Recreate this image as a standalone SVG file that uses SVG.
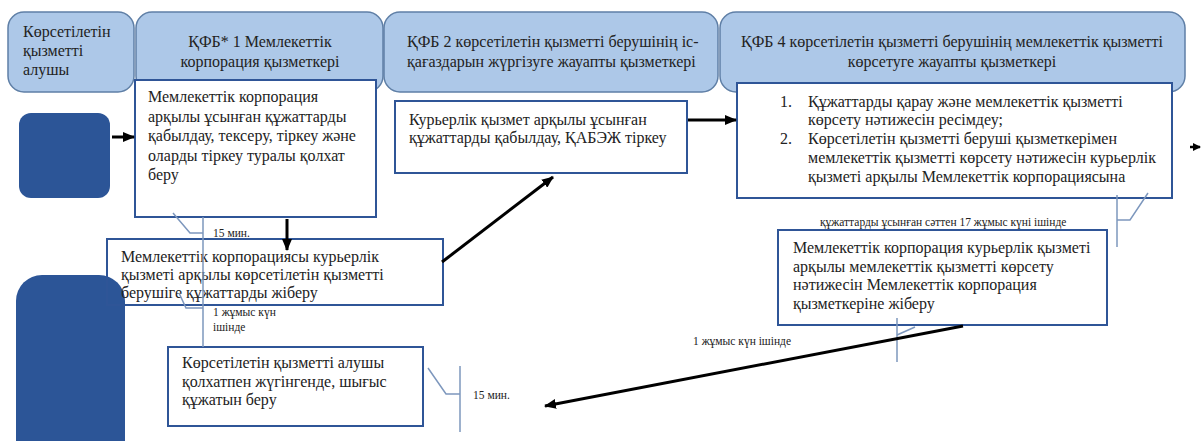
<svg xmlns="http://www.w3.org/2000/svg" width="1202" height="441" viewBox="0 0 1202 441" font-family="'Liberation Serif', 'DejaVu Serif', serif">
  <defs>
    <marker id="ah" markerUnits="userSpaceOnUse" markerWidth="12" markerHeight="10" refX="11" refY="5" orient="auto">
      <path d="M0,0 L12,5 L0,10 z" fill="#000"/>
    </marker>
    <marker id="ahs" markerUnits="userSpaceOnUse" markerWidth="8" markerHeight="8" refX="7" refY="4" orient="auto">
      <path d="M0,0 L8,4 L0,8 z" fill="#000"/>
    </marker>
    <style>
      .lane{fill:#adc8e8;stroke:#5f7fa6;stroke-width:1.5}
      .box{fill:#fff;stroke:#2f5597;stroke-width:2}
      .open{fill:none;stroke:#2f5597;stroke-width:2}
      .blk{fill:#2c5597}
      text{fill:#222}
      .t{font-size:16px}
      .s{font-size:11.5px}
      .conn{stroke:#000;stroke-width:3;fill:none;marker-end:url(#ah)}
      .call{stroke:#7d97bd;stroke-width:1.5;fill:none}
    </style>
  </defs>
  <rect width="1202" height="441" fill="#fff"/>

  <!-- swimlane headers -->
  <g id="lane-recipient">
    <rect class="lane" x="8" y="12" width="126" height="80" rx="16"/>
    <text class="t" x="23" y="37">Көрсетілетін</text>
    <text class="t" x="23" y="56">қызметті</text>
    <text class="t" x="23" y="75">алушы</text>
  </g>
  <g id="lane-kfb1">
    <rect class="lane" x="136" y="12" width="247" height="80" rx="16"/>
    <text class="t" x="260" y="47" text-anchor="middle">ҚФБ* 1 Мемлекеттік</text>
    <text class="t" x="260" y="67" text-anchor="middle">корпорация қызметкері</text>
  </g>
  <g id="lane-kfb2">
    <rect class="lane" x="384" y="12" width="334" height="80" rx="16"/>
    <text class="t" x="407" y="47">ҚФБ 2 көрсетілетін қызметті берушінің іс-</text>
    <text class="t" x="407" y="67">қағаздарын жүргізуге жауапты қызметкері</text>
  </g>
  <g id="lane-kfb4">
    <rect class="lane" x="720" y="12" width="465" height="80" rx="16"/>
    <text class="t" x="952" y="47" text-anchor="middle">ҚФБ 4 көрсетілетін қызметті берушінің мемлекеттік қызметті</text>
    <text class="t" x="952" y="67" text-anchor="middle">көрсетуге жауапты қызметкері</text>
  </g>

  <!-- start / end markers of the recipient lane -->
  <g id="start">
    <rect class="blk" x="19" y="113" width="91" height="85" rx="12"/>
  </g>
  <g id="finish">
    <rect class="blk" x="16" y="275" width="109" height="200" rx="26"/>
  </g>

  <!-- process boxes -->
  <g id="box-accept">
    <rect class="box" x="135" y="80" width="241" height="137"/>
    <text class="t" x="148" y="102">Мемлекеттік корпорация</text>
    <text class="t" x="148" y="122">арқылы ұсынған құжаттарды</text>
    <text class="t" x="148" y="141">қабылдау, тексеру, тіркеу және</text>
    <text class="t" x="148" y="161">оларды тіркеу туралы қолхат</text>
    <text class="t" x="148" y="180">беру</text>
  </g>
  <g id="box-send">
    <rect class="open" x="107" y="239" width="336" height="66"/>
    <text class="t" x="121" y="262">Мемлекеттік корпорациясы курьерлік</text>
    <text class="t" x="121" y="280">қызметі арқылы көрсетілетін қызметті</text>
    <text class="t" x="121" y="298">берушіге құжаттарды жіберу</text>
  </g>
  <g id="box-register">
    <rect class="box" x="395" y="101" width="292" height="72"/>
    <text class="t" x="409" y="125">Курьерлік қызмет арқылы ұсынған</text>
    <text class="t" x="409" y="143">құжаттарды қабылдау, ҚАБЭЖ тіркеу</text>
  </g>
  <g id="box-review">
    <rect class="box" x="737" y="83" width="435" height="115"/>
    <text class="t" x="780" y="107">1.</text>
    <text class="t" x="808" y="107">Құжаттарды қарау және мемлекеттік қызметті</text>
    <text class="t" x="808" y="125">көрсету нәтижесін ресімдеу;</text>
    <text class="t" x="780" y="144">2.</text>
    <text class="t" x="808" y="144">Көрсетілетін қызметті беруші қызметкерімен</text>
    <text class="t" x="808" y="163">мемлекеттік қызметті көрсету нәтижесін курьерлік</text>
    <text class="t" x="808" y="182">қызметі арқылы Мемлекеттік корпорациясына</text>
  </g>
  <g id="box-return">
    <rect class="box" x="778" y="230" width="329" height="95"/>
    <text class="t" x="793" y="253">Мемлекеттік корпорация курьерлік қызметі</text>
    <text class="t" x="793" y="272">арқылы мемлекеттік қызметті көрсету</text>
    <text class="t" x="793" y="290">нәтижесін Мемлекеттік корпорация</text>
    <text class="t" x="793" y="309">қызметкеріне жіберу</text>
  </g>
  <g id="box-issue">
    <rect class="box" x="168" y="347" width="255" height="79"/>
    <text class="t" x="182" y="368">Көрсетілетін қызметті алушы</text>
    <text class="t" x="182" y="387">қолхатпен жүгінгенде, шығыс</text>
    <text class="t" x="182" y="405">құжатын беру</text>
  </g>

  <!-- time callouts -->
  <g id="callouts">
    <path class="call" d="M173,213 L190,233 L203,233"/>
    <path class="call" d="M203,217 L203,347"/>
    <text class="s" x="213" y="237">15 мин.</text>
    <path class="call" d="M179,293 L186,308 L203,308"/>
    <text class="s" x="213" y="316">1 жұмыс күн</text>
    <text class="s" x="213" y="331">ішінде</text>
    <path class="call" d="M1148,193 L1130,220 L1117,220"/>
    <path class="call" d="M1117,195 L1117,247"/>
    <text class="s" x="820" y="226">құжаттарды ұсынған сәттен 17 жұмыс күні ішінде</text>
    <path class="call" d="M915,327 L897,335"/>
    <path class="call" d="M897,318 L897,362"/>
    <text class="s" x="693" y="345">1 жұмыс күн ішінде</text>
    <path class="call" d="M428,368 L446,394 L460,394"/>
    <path class="call" d="M460,366 L460,432"/>
    <text class="s" x="473" y="399">15 мин.</text>
  </g>

  <!-- flow connectors -->
  <g id="connectors">
    <line class="conn" x1="112" y1="137" x2="134" y2="137" stroke-width="4"/>
    <line class="conn" x1="287" y1="219" x2="287" y2="250"/>
    <line class="conn" x1="442" y1="262" x2="553" y2="177"/>
    <line class="conn" x1="688" y1="120" x2="736" y2="120"/>
    <line class="conn" x1="963" y1="326" x2="545" y2="406"/>
    <line x1="1190" y1="147" x2="1200" y2="147" stroke="#000" stroke-width="2.5" marker-end="url(#ahs)"/>
  </g>
</svg>
